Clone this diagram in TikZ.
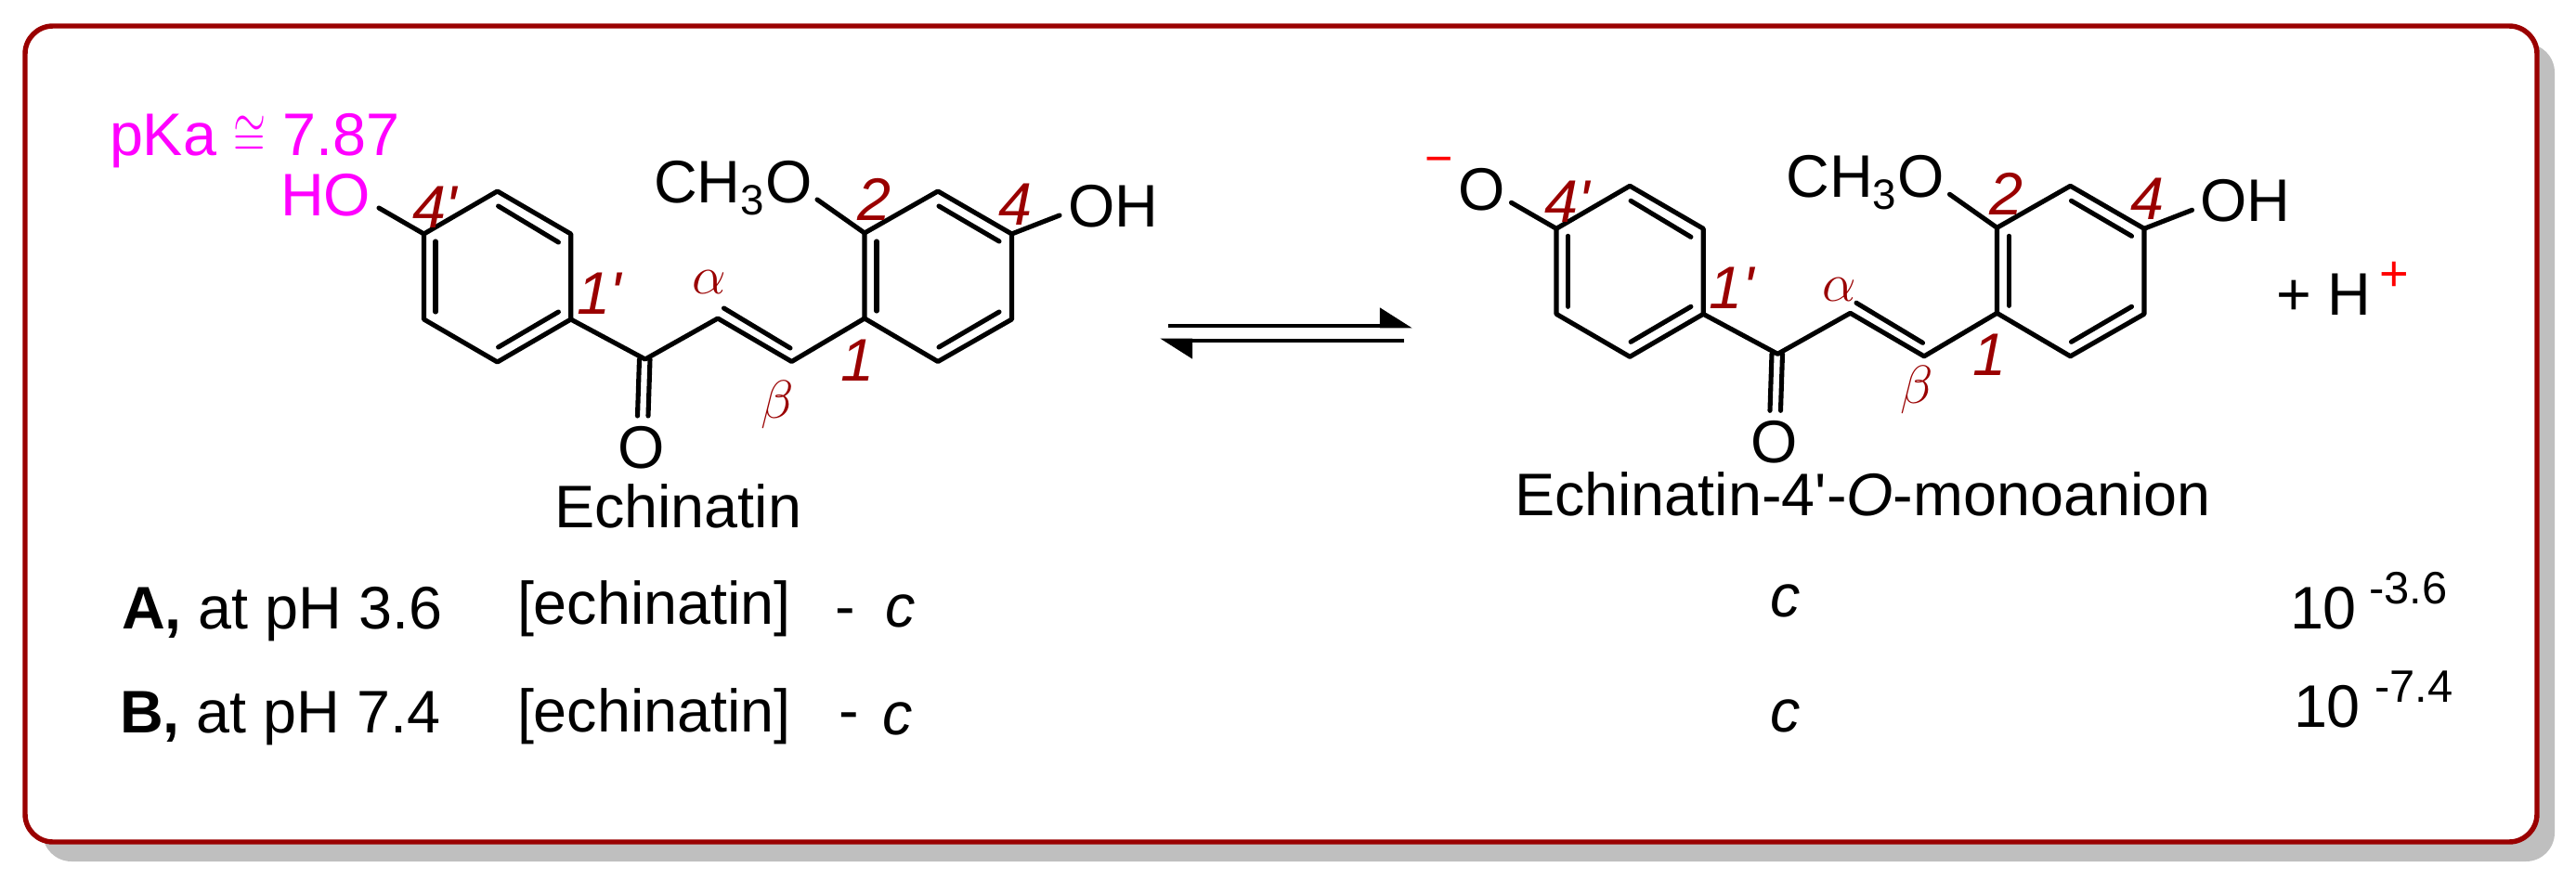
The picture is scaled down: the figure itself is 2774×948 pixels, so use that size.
\RequirePackage{fix-cm}
\documentclass[tikz,border=0pt]{standalone}
\usepackage{fontspec}
\setmainfont{Liberation Sans}
\usetikzlibrary{arrows.meta}

\definecolor{darkframe}{HTML}{9A0000}
\definecolor{shadowgray}{HTML}{BFBFBF}
\definecolor{pinktext}{HTML}{FF00FF}

\tikzset{
    atom/.style={anchor=base west,inner sep=0pt,outer sep=0pt,font=\fontsize{18.4}{20}\selectfont},
    atomc/.style={atom,anchor=base},
    numlabel/.style={atom,text=darkframe,font=\fontsize{18.4}{20}\selectfont\itshape},
    greek/.style={atom,text=darkframe,font=\fontsize{16.5}{18}\selectfont},
    pink/.style={atom,text=pinktext},
    power/.style={atom,font=\fontsize{13.9}{15}\selectfont},
    bond/.style={line width=1.45pt},
    eqline/.style={line width=1.4pt,line cap=butt},
}

% subscript of the methoxy group
\newcommand{\subthree}{{\fontsize{13}{14}\selectfont\raisebox{-3.7pt}{3}}\kern0.4pt}

% skeleton and labels that both molecules share
\newcommand{\skeleton}{
    \coordinate (ra) at (456.5,252);
    \coordinate (rb) at (535.6,206);
    \coordinate (rc) at (614.7,252);
    \coordinate (rd) at (614.7,344);
    \coordinate (re) at (535.6,390);
    \coordinate (rf) at (456.5,344);
    \coordinate (co) at (694.8,387);
    \coordinate (ca) at (773,343);
    \coordinate (cb) at (852.5,389.5);
    \coordinate (sa) at (931,343);
    \coordinate (sb) at (931,251);
    \coordinate (sc) at (1010,206);
    \coordinate (sd) at (1089.5,252);
    \coordinate (se) at (1089.5,344);
    \coordinate (sf) at (1010,389.5);
    \draw [bond] (ra) -- (rb) -- (rc) -- (rd) -- (re) -- (rf) -- cycle;
    \draw [bond] (sa) -- (sb) -- (sc) -- (sd) -- (se) -- (sf) -- cycle;
    \draw [bond] (rd) -- (co) -- (ca) -- (cb) -- (sa);
    % inner lines of the double bonds
    \coordinate (ia1) at (469,260);   \coordinate (ia2) at (469,336);
    \coordinate (ib1) at (536.6,222); \coordinate (ib2) at (601.4,261);
    \coordinate (ic1) at (536.6,374); \coordinate (ic2) at (601.4,336);
    \coordinate (id1) at (779.5,332); \coordinate (id2) at (851,375);
    \coordinate (ie1) at (944,260);   \coordinate (ie2) at (944,335);
    \coordinate (if1) at (1011,222);  \coordinate (if2) at (1076,260);
    \coordinate (ig1) at (1011,374);  \coordinate (ig2) at (1076,336);
    \draw [bond] (ia1) -- (ia2);
    \draw [bond] (ib1) -- (ib2);
    \draw [bond] (ic1) -- (ic2);
    \draw [bond] (id1) -- (id2);
    \draw [bond] (ie1) -- (ie2);
    \draw [bond] (if1) -- (if2);
    \draw [bond] (ig1) -- (ig2);
    % carbonyl
    \coordinate (ko1) at (688.5,387); \coordinate (ko2) at (686.5,448);
    \coordinate (ko3) at (700,387);   \coordinate (ko4) at (698,448);
    \draw [bond] (ko1) -- (ko2);
    \draw [bond] (ko3) -- (ko4);
    \node (oxo) [atomc] at (691,504) {O};
    % methoxy and hydroxy
    \coordinate (ome) at (880,215);
    \coordinate (ohb) at (1141,232);
    \coordinate (oha) at (408,224);
    \draw [bond] (sb) -- (ome);
    \draw [bond] (sd) -- (ohb);
    \draw [bond] (ra) -- (oha);
    \node (meo) [atom] at (704,218) {CH\subthree O};
    \node (hyd) [atom] at (1150,244) {OH};
    % ring numbers
    \node (nfp) [numlabel] at (444,245) {4\textquotesingle};
    \node (nop) [numlabel] at (621,338) {1\textquotesingle};
    \node (non) [numlabel] at (905,410) {1};
    \node (ntw) [numlabel] at (923,237) {2};
    \node (nfo) [numlabel] at (1075,242) {4};
}

\begin{document}
\begin{tikzpicture}[line cap=round,line join=round,x=0.01cm,y=-0.01cm]
    \useasboundingbox (0,0) rectangle (2774,948);
    % frame with its shadow
    \fill [shadowgray,rounded corners=0.31cm] (46,47) rectangle (2751,928);
    \draw [darkframe,fill=white,line width=1.55pt,rounded corners=0.30cm] (27,28) rectangle (2732,907);

    % echinatin
    \begin{scope}[name prefix=ech-]
        \skeleton
    \end{scope}
    \node (pka) [pink] at (118,167) {pKa {\fontsize{13.5}{14}\selectfont\scalebox{0.95}[1.35]{$\cong$}} 7.87};
    \node (hoa) [pink] at (302,232) {HO};
    \node (ala) [greek] at (745,316) {$\alpha$};
    \node (bea) [greek] at (819,450) {$\beta$};
    \node (ecn) [atom] at (597,568) {Echinatin};

    % equilibrium arrows
    \coordinate (eqa) at (1258,351);
    \coordinate (eqb) at (1521,351);
    \coordinate (eqc) at (1512,367);
    \coordinate (eqd) at (1249,367);
    \draw [eqline,-{Triangle[harpoon,length=0.31cm,width=0.38cm]}] (eqa) -- (eqb);
    \draw [eqline,-{Triangle[harpoon,length=0.31cm,width=0.38cm]}] (eqc) -- (eqd);

    % monoanion
    \begin{scope}[shift={(1219.5,-5.7)},name prefix=ani-]
        \skeleton
    \end{scope}
    \node (mns) [atom,text=red,font=\fontsize{14.8}{16}\selectfont] at (1534,188) {−};
    \node (oan) [atomc] at (1596,226) {O};
    \node (alb) [greek] at (1962,324) {$\alpha$};
    \node (beb) [greek] at (2046,434) {$\beta$};
    \node (ecm) [atom] at (1631,555) {Echinatin-4\textquotesingle-\textit{O}-monoanion};
    \node (hpl) [atom] at (2451,339) {+ H};
    \node (hch) [atom,text=red,font=\fontsize{15.4}{17}\selectfont] at (2562,313) {+};

    % concentrations
    \node (rwa) [atom] at (131,677) {\textbf{A,} at pH 3.6};
    \node (eca) [atom] at (557,672) {[echinatin]};
    \node (hya) [atom] at (899,675) {-};
    \node (cma) [atom] at (953,675) {\textit{c}};
    \node (cna) [atom] at (1906,664) {\textit{c}};
    \node (tna) [atom] at (2466,677) {10};
    \node (exa) [power] at (2551,650) {-3.6};
    \node (rwb) [atom] at (129,789) {\textbf{B,} at pH 7.4};
    \node (ecb) [atom] at (557,788) {[echinatin]};
    \node (hyb) [atom] at (903,787) {-};
    \node (cmb) [atom] at (950,791) {\textit{c}};
    \node (cnb) [atom] at (1906,788) {\textit{c}};
    \node (tnb) [atom] at (2470,783) {10};
    \node (exb) [power] at (2557,756) {-7.4};
\end{tikzpicture}
\end{document}
